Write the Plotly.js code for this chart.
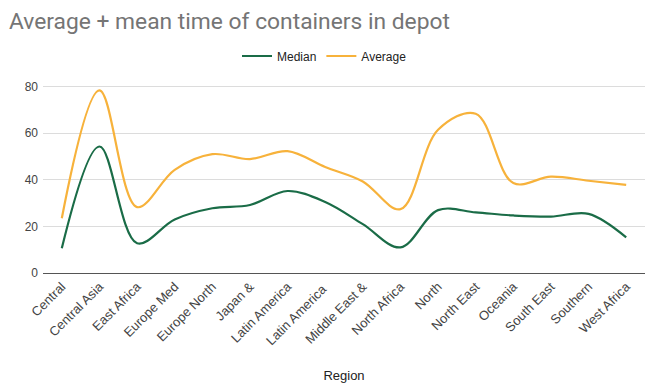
<!DOCTYPE html>
<html>
<head>
<meta charset="utf-8">
<script src="https://cdn.plot.ly/plotly-3.0.1.min.js"></script>
<style>html,body{margin:0;padding:0;background:#fff;}#chart{width:649px;height:388px;}</style>
</head>
<body>
<div id="chart"></div>
<script>
const regions = ["Central", "Central Asia", "East Africa", "Europe Med", "Europe North", "Japan &", "Latin America", "Latin America ", "Middle East &", "North Africa", "North", "North East", "Oceania", "South East", "Southern", "West Africa"];
const median = [10.6, 54.3, 12.8, 23, 27.8, 29.2, 35.2, 30.5, 21, 11, 27, 26, 24.7, 24.2, 25.4, 15.3];
const average = [23.5, 78.4, 28.3, 44.3, 51, 48.9, 52.3, 45.5, 39.3, 27.4, 61.5, 68.4, 38.6, 41.4, 39.6, 37.8];
const yTicks = [0, 20, 40, 60, 80];

const traces = [
  {x: regions, y: median, name: "Median", type: "scatter", mode: "lines",
   line: {color: "#1a6c47", width: 2.2, shape: "spline", smoothing: 1}},
  {x: regions, y: average, name: "Average", type: "scatter", mode: "lines",
   line: {color: "#f7b23b", width: 2.2, shape: "spline", smoothing: 1}}
];

const layout = {
  width: 649, height: 388,
  margin: {l: 43, r: 4, t: 82, b: 115},
  paper_bgcolor: "#fff", plot_bgcolor: "#fff",
  font: {family: "Liberation Sans, Arial, sans-serif", color: "#444"},
  title: {text: "Average + mean time of containers in depot",
    font: {family: "Roboto, Arial, sans-serif", size: 22.8, color: "#757575"},
    xref: "container", x: 9/649, xanchor: "left",
    yref: "container", y: 1 - 21/388, yanchor: "middle"},
  showlegend: true,
  legend: {orientation: "h", xref: "container", x: 0.5, xanchor: "center",
    yref: "container", y: 1 - 56/388, yanchor: "middle",
    font: {size: 12, color: "#222"}, itemwidth: 30, traceorder: "normal"},
  xaxis: {type: "category", range: [-0.5, 15.5], tickangle: -45,
    tickfont: {size: 13, color: "#444"}, showgrid: false, zeroline: false,
    showline: true, linecolor: "#555", linewidth: 1, ticks: "",
    title: {text: "Region", font: {size: 13, color: "#222"}, standoff: 23}},
  yaxis: {range: [0, 82], tickvals: yTicks, ticktext: yTicks.map(String),
    tickfont: {size: 12, color: "#444"}, showgrid: true, gridcolor: "#dcdcdc",
    zeroline: false, showline: false, ticks: "", ticklabelstandoff: 4}
};

Plotly.newPlot("chart", traces, layout, {displayModeBar: false, staticPlot: true});
</script>
</body>
</html>
